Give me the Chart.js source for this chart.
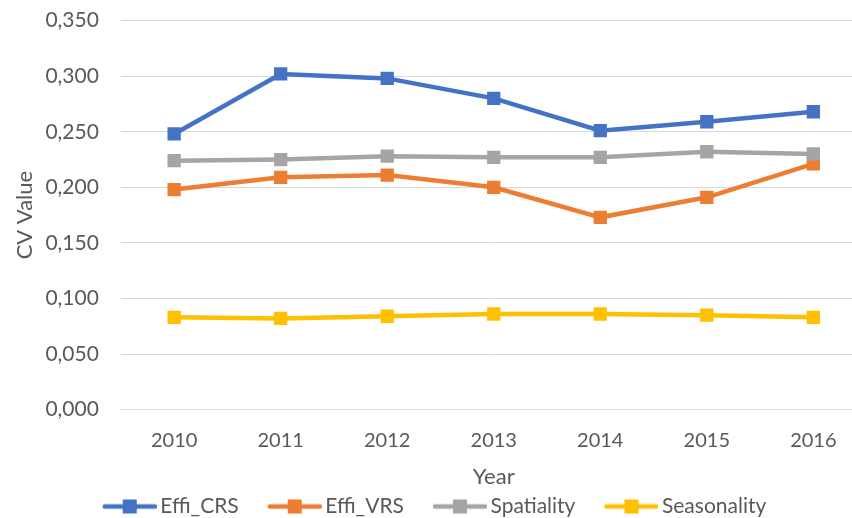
<!DOCTYPE html>
<html>
<head>
<meta charset="utf-8">
<script src="https://cdn.jsdelivr.net/npm/chart.js@4/dist/chart.umd.min.js"></script>
<style>
  html, body { margin: 0; padding: 0; background: #fff; overflow: hidden; }
  #wrap { width: 876px; height: 541px; margin-top: -14px; }
</style>
</head>
<body>
<div id="wrap"><canvas id="myChart" width="876" height="541"></canvas></div>
<script>
// data
const years = ["2010", "2011", "2012", "2013", "2014", "2015", "2016"];
const effiCRS = [0.248, 0.302, 0.298, 0.280, 0.251, 0.259, 0.268];
const effiVRS = [0.198, 0.209, 0.211, 0.200, 0.173, 0.191, 0.221];
const spatiality = [0.224, 0.225, 0.228, 0.227, 0.227, 0.232, 0.230];
const seasonality = [0.083, 0.082, 0.084, 0.086, 0.086, 0.085, 0.083];
const seriesNames = ["Effi_CRS", "Effi_VRS", "Spatiality", "Seasonality"];
const seriesColors = ['#4472C4', '#ED7D31', '#A5A5A5', '#FFC000'];

const FONT = "Lato, 'Open Sans', sans-serif";
const TEXT = '#595959';
const GRID = '#D9D9D9';
const BOX_W = 70;

// line + square marker for the legend, like Excel draws it.
// image is centred on the box, marker sits at its right end
const legendMarker = function (color) {
  const c = document.createElement('canvas');
  c.width = BOX_W + 14; c.height = 16;
  const g = c.getContext('2d');
  const x0 = c.width - 54;
  g.strokeStyle = color;
  g.lineWidth = 4.5;
  g.lineCap = 'round';
  g.beginPath();
  g.moveTo(x0 + 2, 8); g.lineTo(c.width - 2, 8);
  g.stroke();
  g.fillStyle = color;
  g.fillRect(x0 + 20, 1, 14, 14);
  return c;
};

const makeSet = function (i, values) {
  return {
    label: seriesNames[i],
    data: values,
    order: 3 - i,
    borderColor: seriesColors[i],
    backgroundColor: seriesColors[i],
    borderWidth: 4.5,
    pointStyle: 'rect',
    pointRadius: 9.4,
    pointHoverRadius: 9.4,
    pointBorderWidth: 0,
    tension: 0,
    fill: false
  };
};

const ctx = document.getElementById('myChart').getContext('2d');
const chart = new Chart(ctx, {
  type: 'line',
  data: {
    labels: years,
    datasets: [
      makeSet(0, effiCRS),
      makeSet(1, effiVRS),
      makeSet(2, spatiality),
      makeSet(3, seasonality)
    ]
  },
  options: {
    responsive: false,
    animation: false,
    // negative left padding only pulls the legend centre to the left
    layout: { padding: { top: 0, right: 0, left: -30, bottom: 0 } },
    plugins: {
      tooltip: { enabled: false },
      legend: {
        position: 'bottom',
        labels: {
          usePointStyle: true,
          pointStyleWidth: BOX_W,
          boxHeight: 16,
          padding: 6,
          color: TEXT,
          font: { family: FONT, size: 21 },
          generateLabels: function (ch) {
            return ch.data.datasets.map(function (ds, i) {
              return {
                text: ds.label,
                pointStyle: legendMarker(ds.borderColor),
                fillStyle: ds.borderColor,
                strokeStyle: ds.borderColor,
                lineWidth: 0,
                fontColor: TEXT,
                datasetIndex: i,
                hidden: false
              };
            });
          }
        }
      }
    },
    scales: {
      x: {
        offset: true,
        grid: { display: false, drawTicks: false },
        border: { display: true, color: GRID, width: 1 },
        ticks: { color: TEXT, font: { family: FONT, size: 20 }, padding: 19 },
        title: {
          display: true, text: 'Year', color: TEXT,
          font: { family: FONT, size: 22 }, padding: { top: -8, bottom: 0 }
        }
      },
      y: {
        min: 0,
        max: 0.35,
        grid: { color: GRID, lineWidth: 1, drawTicks: false },
        border: { display: false },
        ticks: {
          stepSize: 0.05,
          padding: 22,
          color: TEXT,
          font: { family: FONT, size: 21 },
          callback: function (v) { return Number(v).toFixed(3).replace('.', ','); }
        },
        title: {
          display: true, text: 'CV Value', color: TEXT,
          font: { family: FONT, size: 22 }, padding: { top: 42, bottom: -15 }
        }
      }
    }
  }
});
</script>
</body>
</html>
